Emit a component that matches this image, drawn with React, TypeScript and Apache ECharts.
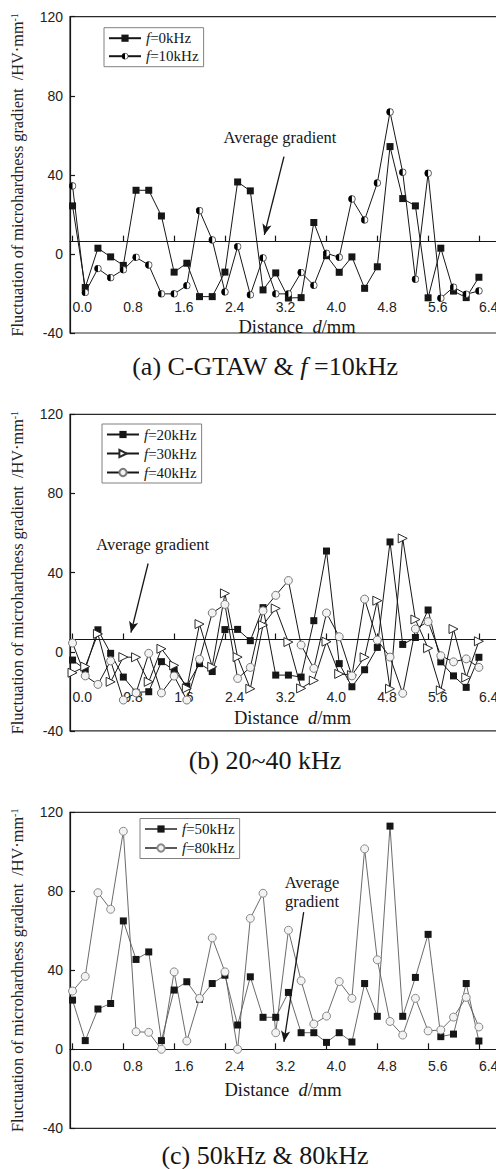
import React, { useEffect, useRef } from "react";
import * as echarts from "echarts";

// Distance d/mm of each measuring point
const distance = [0.0, 0.2, 0.4, 0.6, 0.8, 1.0, 1.2, 1.4, 1.6, 1.8, 2.0, 2.2, 2.4, 2.6, 2.8, 3.0, 3.2,
  3.4, 3.6, 3.8, 4.0, 4.2, 4.4, 4.6, 4.8, 5.0, 5.2, 5.4, 5.6, 5.8, 6.0, 6.2, 6.4];
const xTickValues = [0.0, 0.8, 1.6, 2.4, 3.2, 4.0, 4.8, 5.6, 6.4];

// (a) C-GTAW & f=10kHz
const f0kHz = [24.3, -17.0, 2.9, -1.5, -5.8, 32.2, 32.2, 19.2, -9.2, -4.7, -21.6, -21.6, -9.2, 36.4, 31.9, -18.2,
  -9.6, -22.3, -22.1, 15.9, -0.9, -9.3, -1.5, -17.4, -6.5, 54.3, 28.0, 24.3, -22.2, 2.9, -18.8, -22.1, -11.8];
const f10kHz = [34.4, -19.5, -7.4, -12.0, -8.0, -1.7, -5.6, -20.2, -20.2, -16.0, 21.9, 7.1, -19.2, 3.7, -20.7, -2.0,
  -20.2, -20.2, -9.4, -15.9, 0.3, -1.7, 27.8, 17.2, 35.9, 71.8, 41.3, -12.8, 40.8, -22.4, -16.8, -20.4, -18.7];

// (b) 20~40 kHz
const f20kHz = [-4.2, -8.9, 11.1, -0.8, -12.8, -20.5, -20.2, -5.0, -9.3, -17.4, -6.0, -10.0, 11.2, 11.3, 5.6, 22.3,
  -11.8, -11.8, -12.8, 15.7, 50.9, -6.0, -17.7, -9.1, 2.2, 55.5, 3.7, 7.2, 21.1, -5.1, -12.2, -18.0, -2.8];
const f30kHz = [-10.6, -7.5, 9.0, -15.2, -2.7, -2.8, -15.2, 1.5, -6.9, -18.5, 14.0, -7.6, 29.5, -2.7, -18.7, 13.5,
  21.9, 4.9, -18.5, -14.5, 5.1, -11.2, -11.8, -2.8, 25.8, -18.7, 57.3, 16.3, 1.8, -19.5, 11.5, -13.0, 5.3];
const f40kHz = [4.4, -12.2, -16.5, -4.6, -24.4, -20.8, -0.8, -20.8, -12.3, -24.4, -3.8, 19.6, 23.9, -13.5, -7.9, 20.7,
  28.5, 36.0, 3.4, -8.4, 19.6, 7.6, -12.2, 26.6, 5.9, -2.7, -21.0, 11.5, 15.2, -2.0, -5.1, -3.6, -7.9];

// (c) 50kHz & 80kHz
const f50kHz = [24.9, 4.4, 20.4, 23.2, 65.0, 45.5, 49.3, 4.4, 30.0, 34.2, 25.3, 33.3, 37.5, 12.3, 36.7, 16.2,
  16.2, 28.8, 8.4, 8.4, 3.5, 8.4, 3.7, 33.3, 16.7, 113.0, 16.7, 36.4, 58.2, 6.4, 7.7, 33.3, 4.2];
const f80kHz = [29.5, 36.9, 79.3, 70.9, 110.4, 8.9, 8.6, 0.0, 39.2, 4.2, 25.8, 56.4, 39.2, 0.0, 66.3, 79.0,
  8.4, 60.3, 34.7, 12.8, 16.8, 34.3, 25.8, 101.5, 45.3, 14.1, 7.2, 25.8, 9.3, 9.8, 16.3, 26.3, 11.3];

// average gradient levels (panel a, panel b)
const averageA = 6.2;
const averageB = 6.2;

const Y_MIN = -40;
const Y_MAX = 120;
const Y_STEP = 40;

const SERIF = "'Liberation Serif', 'DejaVu Serif', serif";
const SANS = "'Liberation Sans', Arial, sans-serif";
const INK = "#161616";

const halfCircleSvg =
  "<svg xmlns='http://www.w3.org/2000/svg' width='40' height='40' viewBox='0 0 40 40'>" +
  "<circle cx='20' cy='20' r='17' fill='white' stroke='black' stroke-width='3.2'/>" +
  "<path d='M20 3 A17 17 0 0 0 20 37 Z' fill='black'/></svg>";
const halfCircle = "image://data:image/svg+xml;charset=utf-8," + encodeURIComponent(halfCircleSvg);

const pairs = (vals: number[]) => distance.map((d, i) => [d, vals[i]]);

export default function App() {
  const ref = useRef<HTMLDivElement>(null);
  useEffect(() => {
    if (!ref.current) return;
    const chart = echarts.init(ref.current, null, { renderer: "svg" });

    const grids = [
      { left: 70, top: 16.7, width: 434.3, height: 316.3 },
      { left: 70, top: 414.3, width: 434.3, height: 316.6 },
      { left: 70, top: 812.3, width: 434.3, height: 316 },
    ].map((g) => ({
      ...g,
      show: true,
      containLabel: false,
      outerBoundsMode: "none",
      borderColor: "#2a2a2a",
      borderWidth: 1.2,
      backgroundColor: "transparent",
    }));

    const xAxis = (gridIndex: number, onZeroAxisIndex: number, margin: number) => ({
      type: "value",
      gridIndex,
      min: -0.04,
      max: 6.8,
      axisLine: { show: true, onZero: true, onZeroAxisIndex, lineStyle: { color: INK, width: 1.2 } },
      axisTick: { show: true, inside: true, length: 6, customValues: xTickValues, lineStyle: { color: INK, width: 1.2 } },
      axisLabel: {
        show: true,
        customValues: xTickValues,
        formatter: (v: number) => v.toFixed(1),
        margin,
        align: "left",
        fontFamily: SANS,
        fontSize: 14,
        color: "#222",
      },
      splitLine: { show: false },
    });

    const yName = "{a|Fluctuation of microhardness gradient  /HV·mm}{b|-1}";
    const yAxisMain = (gridIndex: number) => ({
      type: "value",
      gridIndex,
      min: Y_MIN,
      max: Y_MAX,
      interval: Y_STEP,
      axisLine: { show: true, onZero: false, lineStyle: { color: INK, width: 1.2 } },
      axisTick: { show: true, inside: true, length: 5, lineStyle: { color: INK, width: 1.2 } },
      axisLabel: { margin: 7, fontFamily: SANS, fontSize: 14, color: "#222" },
      splitLine: { show: false },
      name: yName,
      nameLocation: "middle",
      nameRotate: 90,
      nameGap: 45,
      nameTextStyle: {
        rich: {
          a: { fontFamily: SERIF, fontSize: 16.3, color: "#222" },
          b: { fontFamily: SERIF, fontSize: 10, color: "#222", verticalAlign: "top" },
        },
      },
    });
    const yAxisShift = (gridIndex: number, avg: number) => ({
      type: "value",
      gridIndex,
      show: false,
      min: Y_MIN - avg,
      max: Y_MAX - avg,
      splitLine: { show: false },
    });

    const arrow = (from: number[], to: number[]) => ({
      silent: true,
      symbol: ["none", "arrow"],
      symbolSize: [7, 11],
      label: { show: false },
      lineStyle: { color: INK, width: 1.3, type: "solid" },
      emphasis: { disabled: true },
      data: [[{ coord: from }, { coord: to }]],
    });

    const blackLine = { color: INK, width: 1 };
    const greyLine = { color: "#5a5a5a", width: 0.9 };

    const series: any[] = [
      {
        name: "f=0kHz", type: "line", xAxisIndex: 0, yAxisIndex: 0, data: pairs(f0kHz),
        symbol: "rect", symbolSize: 7, itemStyle: { color: INK }, lineStyle: blackLine,
        markLine: arrow([3.33, 49.2], [3.02, 9.6]),
      },
      {
        name: "f=10kHz", type: "line", xAxisIndex: 0, yAxisIndex: 0, data: pairs(f10kHz),
        symbol: halfCircle, symbolSize: 8, itemStyle: { color: INK }, lineStyle: blackLine,
      },
      {
        name: "f=20kHz", type: "line", xAxisIndex: 1, yAxisIndex: 2, data: pairs(f20kHz),
        symbol: "rect", symbolSize: 7, itemStyle: { color: INK }, lineStyle: blackLine,
        markLine: arrow([1.19, 44.6], [0.92, 9.7]),
      },
      {
        name: "f=30kHz", type: "line", xAxisIndex: 1, yAxisIndex: 2, data: pairs(f30kHz),
        symbol: "triangle", symbolRotate: -90, symbolSize: 9,
        itemStyle: { color: "#ffffff", borderColor: "#2a2a2a", borderWidth: 1 }, lineStyle: blackLine,
      },
      {
        name: "f=40kHz", type: "line", xAxisIndex: 1, yAxisIndex: 2, data: pairs(f40kHz),
        symbol: "circle", symbolSize: 8,
        itemStyle: { color: "#f3f3f3", borderColor: "#7a7a7a", borderWidth: 1 }, lineStyle: blackLine,
      },
      {
        name: "f=50kHz", type: "line", xAxisIndex: 2, yAxisIndex: 4, data: pairs(f50kHz),
        symbol: "rect", symbolSize: 7, itemStyle: { color: INK }, lineStyle: greyLine,
        markLine: arrow([3.64, 69.5], [3.33, 3.8]),
      },
      {
        name: "f=80kHz", type: "line", xAxisIndex: 2, yAxisIndex: 4, data: pairs(f80kHz),
        symbol: "circle", symbolSize: 8,
        itemStyle: { color: "#f3f3f3", borderColor: "#8a8a8a", borderWidth: 1 }, lineStyle: greyLine,
      },
    ];

    const legend = (names: string[], left: number, top: number, gap: number) => ({
      data: names,
      left,
      top,
      orient: "vertical",
      itemWidth: 32,
      itemHeight: 9,
      itemGap: gap,
      padding: [3, 5, 3, 4],
      borderColor: "#808080",
      borderWidth: 1,
      backgroundColor: "#fff",
      selectedMode: false,
      formatter: (n: string) => "{i|f}" + n.slice(1),
      textStyle: {
        fontFamily: SERIF,
        fontSize: 15,
        color: INK,
        rich: { i: { fontFamily: SERIF, fontSize: 15, fontStyle: "italic", color: INK } },
      },
    });

    const text = (x: number, y: number, t: string, size: number, extra: any = {}) => ({
      type: "text",
      x,
      y,
      silent: true,
      style: {
        text: t,
        fontFamily: SERIF,
        fontSize: size,
        fill: INK,
        align: "center",
        verticalAlign: "middle",
        rich: { i: { fontFamily: SERIF, fontSize: size, fontStyle: "italic", fill: INK } },
        ...extra,
      },
    });

    chart.setOption({
      animation: false,
      backgroundColor: "#ffffff",
      grid: grids,
      xAxis: [xAxis(0, 1, -33), xAxis(1, 3, -40.5), xAxis(2, 4, -69.3)],
      yAxis: [yAxisMain(0), yAxisShift(0, averageA), yAxisMain(1), yAxisShift(1, averageB), yAxisMain(2)],
      legend: [
        legend(["f=0kHz", "f=10kHz"], 104, 27.7, 3),
        legend(["f=20kHz", "f=30kHz", "f=40kHz"], 102, 424, 4),
        legend(["f=50kHz", "f=80kHz"], 140, 818.5, 4),
      ],
      series,
      graphic: [
        text(280, 137.7, "Average gradient", 16.5),
        text(152.7, 544, "Average gradient", 16.5),
        text(312, 892, "Average\ngradient", 16.5, { lineHeight: 19.5 }),
        text(297, 326.7, "Distance  {i|d}/mm", 18.5),
        text(292.5, 718.3, "Distance  {i|d}/mm", 18.5),
        text(283, 1090, "Distance  {i|d}/mm", 18.5),
        text(265, 366.7, "(a) C-GTAW & {i|f} =10kHz", 26),
        text(265, 760, "(b) 20~40 kHz", 26),
        text(265, 1155, "(c) 50kHz & 80kHz", 26),
      ],
    });
    return () => chart.dispose();
  }, []);

  return (
    <div style={{ position: "absolute", left: 0, top: 0, width: 496, height: 1169, overflow: "hidden", background: "#fff" }}>
      <div ref={ref} style={{ width: 520, height: 1169 }} />
    </div>
  );
}
